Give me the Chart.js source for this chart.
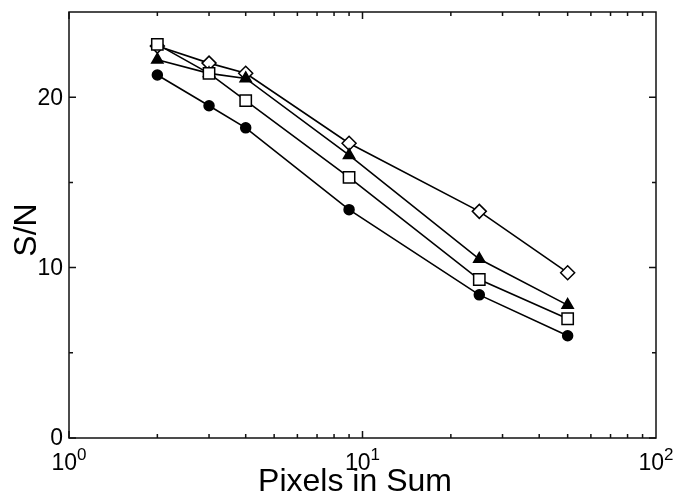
<!DOCTYPE html>
<html>
<head>
<meta charset="utf-8">
<script src="https://cdn.jsdelivr.net/npm/chart.js@4/dist/chart.umd.min.js"></script>
<style>
  html, body { margin: 0; padding: 0; background: #fff; }
  #wrap { width: 678px; height: 497px; }
</style>
</head>
<body>
<div id="wrap"><canvas id="snChart" width="678" height="497"></canvas></div>
<script>
// pixels summed (x) and S/N for each series
const pixels = [2, 3, 4, 9, 25, 50];
const snCircle = [21.3, 19.5, 18.2, 13.4, 8.4, 6.0];
const snTriangle = [22.2, 21.4, 21.1, 16.6, 10.5, 7.8];
const snSquare = [23.1, 21.4, 19.8, 15.3, 9.3, 7.0];
const snDiamond = [23.0, 22.0, 21.4, 17.3, 13.3, 9.7];

const xMajor = [1, 10, 100];
const xMajorExp = ["0", "1", "2"];
const yMajor = [0, 10, 20];
const yMinor = [5, 15];

const FONT = "'Liberation Sans', Arial, Helvetica, sans-serif";

function pts(ys) {
  return pixels.map((x, i) => ({ x: x, y: ys[i] }));
}

function series(ys, style, fill, radius, order) {
  return {
    data: pts(ys),
    borderColor: "#000",
    borderWidth: 1.6,
    pointStyle: style,
    pointRadius: radius,
    pointBackgroundColor: fill,
    pointBorderColor: "#000",
    pointBorderWidth: 1.5,
    tension: 0,
    order: order,
  };
}

const axesPlugin = {
  id: "axesPlugin",
  afterDraw(chart) {
    const ctx = chart.ctx;
    const a = chart.chartArea;
    const sx = chart.scales.x;
    const sy = chart.scales.y;
    ctx.save();
    ctx.strokeStyle = "#111";
    ctx.lineWidth = 1.5;
    ctx.strokeRect(a.left, a.top, a.right - a.left, a.bottom - a.top);

    ctx.beginPath();
    // x ticks top + bottom, inward
    for (let d = 1; d < 100; d *= 10) {
      for (let m = 1; m < 10; m++) {
        const v = d * m;
        const px = sx.getPixelForValue(v);
        const len = m === 1 ? 7 : 4;
        ctx.moveTo(px, a.bottom);
        ctx.lineTo(px, a.bottom - len);
        ctx.moveTo(px, a.top);
        ctx.lineTo(px, a.top + len);
      }
    }
    // y ticks left + right, inward
    yMajor.concat(yMinor).forEach((v) => {
      const py = sy.getPixelForValue(v);
      const len = yMajor.includes(v) ? 7 : 4;
      ctx.moveTo(a.left, py);
      ctx.lineTo(a.left + len, py);
      ctx.moveTo(a.right, py);
      ctx.lineTo(a.right - len, py);
    });
    ctx.stroke();

    ctx.fillStyle = "#000";
    // y labels
    ctx.font = "23px " + FONT;
    ctx.textAlign = "right";
    ctx.textBaseline = "middle";
    yMajor.forEach((v) => {
      ctx.fillText(String(v), a.left - 6, sy.getPixelForValue(v) + 1);
    });

    // x labels 10^n
    ctx.textBaseline = "alphabetic";
    xMajor.forEach((v, i) => {
      const px = sx.getPixelForValue(v);
      ctx.font = "23px " + FONT;
      const wb = ctx.measureText("10").width;
      ctx.font = "17px " + FONT;
      const we = ctx.measureText(xMajorExp[i]).width;
      const start = px - (wb + we) / 2;
      ctx.textAlign = "left";
      ctx.font = "23px " + FONT;
      ctx.fillText("10", start, 470);
      ctx.font = "17px " + FONT;
      ctx.fillText(xMajorExp[i], start + wb, 460);
    });

    // axis titles
    ctx.font = "32px " + FONT;
    ctx.textAlign = "center";
    ctx.fillText("Pixels in Sum", 355, 491);
    ctx.translate(36, 230);
    ctx.rotate(-Math.PI / 2);
    ctx.fillText("S/N", 0, 0);
    ctx.restore();
  },
};

new Chart(document.getElementById("snChart").getContext("2d"), {
  type: "line",
  data: {
    datasets: [
      series(snSquare, "rect", "#fff", 8, 0),
      series(snTriangle, "triangle", "#000", 6.5, 1),
      series(snDiamond, "rectRot", "#fff", 7, 2),
      series(snCircle, "circle", "#000", 5, 3),
    ],
  },
  options: {
    responsive: false,
    animation: false,
    layout: { padding: { left: 69, right: 22, top: 12, bottom: 59 } },
    plugins: { legend: { display: false }, tooltip: { enabled: false } },
    scales: {
      x: { type: "logarithmic", min: 1, max: 100, display: false },
      y: { type: "linear", min: 0, max: 25, display: false },
    },
  },
  plugins: [axesPlugin],
});
</script>
</body>
</html>
